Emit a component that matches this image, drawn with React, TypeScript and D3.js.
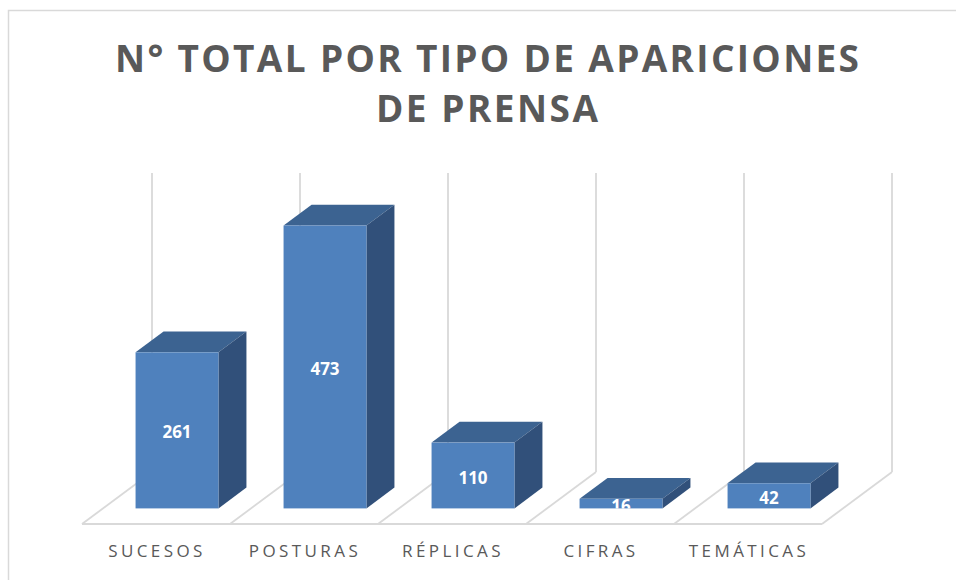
import React from 'react';
import * as d3 from 'd3';

const categories = ['SUCESOS', 'POSTURAS', 'RÉPLICAS', 'CIFRAS', 'TEMÁTICAS'];
const values = [261, 473, 110, 16, 42];
const titleLines = ['N° TOTAL POR TIPO DE APARICIONES', 'DE PRENSA'];
const yMax = 500;

const W = 956;
const H = 580;
// floor geometry (oblique projection)
const floorLeft = 82;
const floorRight = 822;
const floorFrontY = 524;
const depthX = 70; // full floor depth offset
const depthY = -52;
const wallHeight = 299;
const barFront = 0.3; // bar sits in the middle of the floor depth
const barDepth = 0.4;

const front = '#4f81bd';
const top = '#3c6391';
const side = '#31507a';
const grid = '#d9d9d9';

export default function App() {
  const x = d3.scaleBand<string>()
    .domain(categories)
    .range([floorLeft, floorRight])
    .paddingInner(0.44)
    .paddingOuter(0.22);

  const h = d3.scaleLinear().domain([0, yMax]).range([0, wallHeight]);

  const step = x.step();
  const bounds = d3.range(categories.length + 1).map(i => floorLeft + i * step);

  const fx = barFront * depthX;
  const fy = floorFrontY + barFront * depthY;
  const bdx = barDepth * depthX;
  const bdy = barDepth * depthY;

  return (
    <svg width={W} height={H} style={{ position: 'absolute', left: 0, top: 0 }}>
      <rect x={0} y={0} width={W} height={H} fill="#fff" />
      <path d={`M8.5,${H}V10.5H${W}`} fill="none" stroke={grid} strokeWidth={1.5} />

      {titleLines.map((t, i) => (
        <text key={t} x={487} y={72 + i * 50} textAnchor="middle"
          fontFamily="'Open Sans', sans-serif" fontWeight={700} fontSize={37}
          fill="#595959" textLength={i === 0 ? 744 : 222} lengthAdjust="spacing">
          {t}
        </text>
      ))}

      {/* floor */}
      <g fill="none" stroke={grid} strokeWidth={1.8}>
        <line x1={floorLeft} x2={floorRight} y1={floorFrontY} y2={floorFrontY} />
        {bounds.map((b, i) => (
          <line key={'d' + i} x1={b} y1={floorFrontY} x2={b + depthX} y2={floorFrontY + depthY} />
        ))}
        {bounds.map((b, i) => (
          <line key={'v' + i} x1={b + depthX} y1={floorFrontY + depthY}
            x2={b + depthX} y2={floorFrontY + depthY - wallHeight} />
        ))}
      </g>

      <defs>
        <clipPath id="lblclip">
          <rect x={0} y={0} width={W} height={fy} />
        </clipPath>
      </defs>

      {categories.map((c, i) => {
        const x0 = (x(c) as number) + fx;
        const bw = x.bandwidth();
        const yTop = fy - h(values[i]);
        return (
          <g key={c}>
            <path d={`M${x0},${yTop}L${x0 + bdx},${yTop + bdy}L${x0 + bw + bdx},${yTop + bdy}L${x0 + bw},${yTop}Z`} fill={top} />
            <path d={`M${x0 + bw},${yTop}L${x0 + bw + bdx},${yTop + bdy}L${x0 + bw + bdx},${fy + bdy}L${x0 + bw},${fy}Z`} fill={side} />
            <rect x={x0} y={yTop} width={bw} height={fy - yTop} fill={front} />
            <text x={x0 + bw / 2} y={(yTop + fy) / 2 + 2} dy="0.36em" textAnchor="middle"
              fontFamily="'Open Sans', sans-serif" fontWeight={700} fontSize={17}
              fill="#fff" clipPath="url(#lblclip)">
              {values[i]}
            </text>
          </g>
        );
      })}

      {categories.map(c => (
        <text key={'l' + c} x={(x(c) as number) + x.bandwidth() / 2 + 1} y={557}
          textAnchor="middle" fontFamily="'Open Sans', sans-serif" fontSize={17}
          letterSpacing="3.4px" fill="#595959">
          {c}
        </text>
      ))}
    </svg>
  );
}
